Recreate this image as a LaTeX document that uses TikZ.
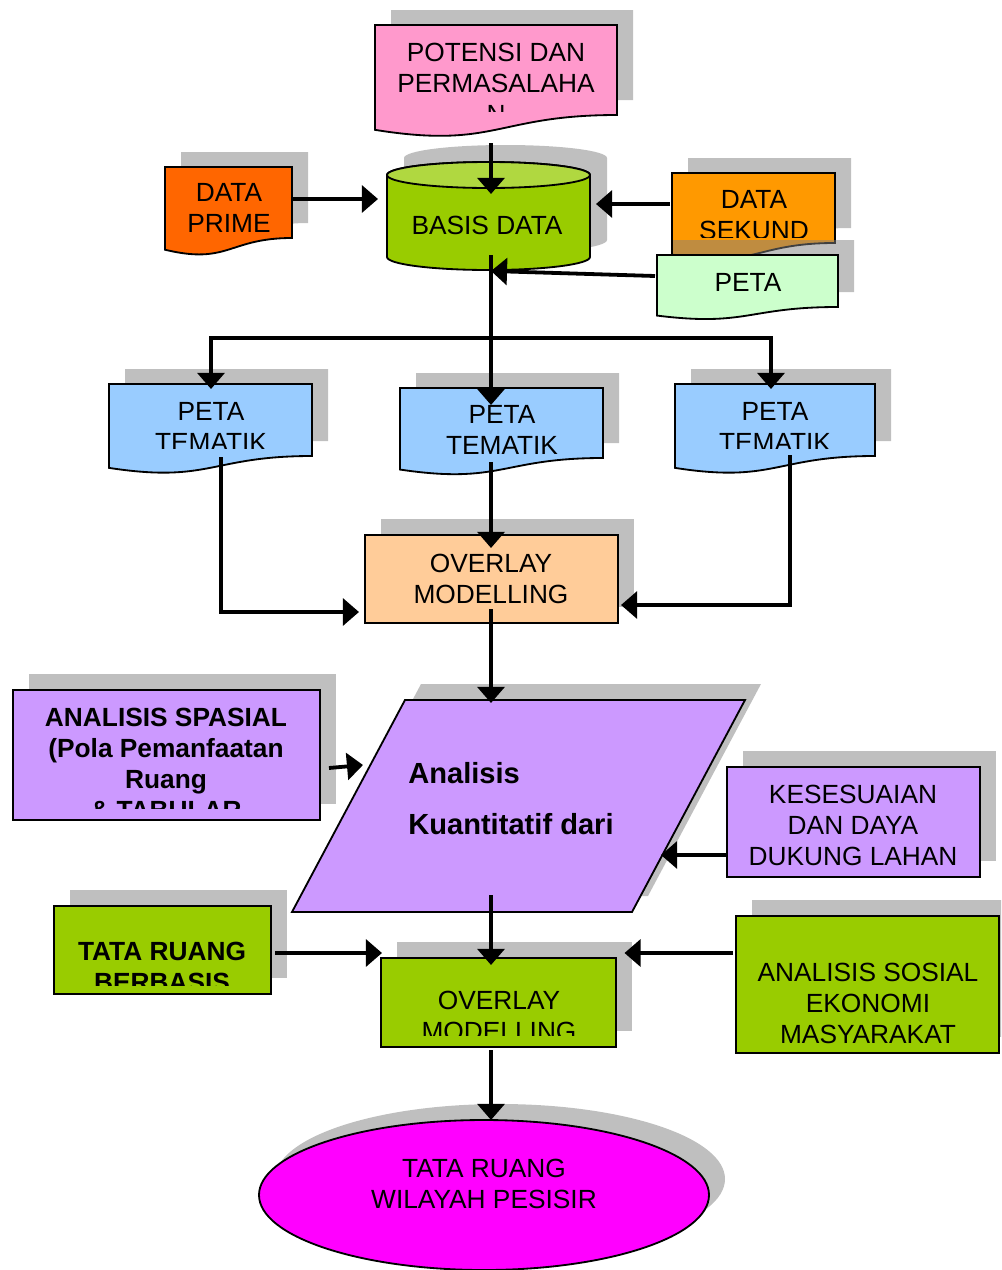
\documentclass[tikz,border=0pt]{standalone}
\usepackage{fontspec}
\setmainfont{Liberation Sans}
\usetikzlibrary{arrows.meta, calc, fit}

\definecolor{potensipink}{HTML}{FF99CC}
\definecolor{primeorange}{HTML}{FF6600}
\definecolor{sekunderorange}{HTML}{FF9900}
\definecolor{basisgreen}{HTML}{99CC00}
\definecolor{basistop}{HTML}{B0D840}
\definecolor{petagreen}{HTML}{CCFFCC}
\definecolor{mapblue}{HTML}{99CCFF}
\definecolor{overlaypeach}{HTML}{FFCC99}
\definecolor{analisislilac}{HTML}{CC99FF}
\definecolor{pesisirmagenta}{HTML}{FF00FF}

\begin{document}
\begin{tikzpicture}[x=0.025cm, y=-0.025cm,
    shadowfill/.style={fill=gray, fill opacity=0.5, draw=none},
    outline/.style={draw=black, line width=1.3pt},
    shapebox/.style={inner sep=0pt, outer sep=0pt},
    txt/.style={font=\fontsize{18.7}{22}\selectfont, align=center, inner sep=0pt},
    boldtxt/.style={txt, font=\fontsize{18.7}{22}\selectfont\bfseries},
    conn/.style={line width=2.7pt, -{Triangle[length=11.4pt, width=19pt]}}]

    % picture size (one unit = one pixel of the sketch)
    \clip (0,0) rectangle (1001,1270);

    % document shape: left, top, width, height of the right side
    \def\docpath#1#2#3#4{(#1,#2) -- ({#1+#3},#2) -- ({#1+#3},{#2+#4})
        .. controls ({#1+0.5*#3},{#2+#4}) and ({#1+0.5*#3},{#2+1.381*#4}) .. (#1,{#2+1.165*#4}) -- cycle}
    \def\docshape#1#2#3#4#5#6{%
        \fill[shadowfill, shift={(16,-15)}] \docpath{#2}{#3}{#4}{#5};
        \filldraw[outline, fill=#6] \docpath{#2}{#3}{#4}{#5};
        \node[shapebox, fit={(#2,#3) ({#2+#4},{#3+#5})}] (#1) {};
    }
    % box shape: left, top, right, bottom
    \def\boxshape#1#2#3#4#5#6{%
        \fill[shadowfill, shift={(16,-16)}] (#2,#3) rectangle (#4,#5);
        \node[shapebox, outline, fill=#6, fit={(#2,#3) (#4,#5)}] (#1) {};
    }
    % cylinder outline
    \def\cylpath{(387,257) .. controls (387,264.2) and (432.4,270) .. (488.5,270)
        .. controls (544.6,270) and (590,264.2) .. (590,257) -- (590,175)
        .. controls (590,167.8) and (544.6,162) .. (488.5,162)
        .. controls (432.4,162) and (387,167.8) .. (387,175) -- cycle}

    % Top row
    \docshape{potensi}{375}{25}{242}{90}{potensipink}
    \docshape{prime}{165}{167}{127}{71}{primeorange}

    \fill[shadowfill, shift={(17,-17)}] \cylpath;
    \filldraw[outline, fill=basisgreen] \cylpath;
    \filldraw[outline, fill=basistop] (488.5,175) ellipse (101.5 and 13);
    \node[shapebox, fit={(387,162) (590,270)}] (basis) {};

    \docshape{sekunder}{672}{173}{163}{70}{sekunderorange}
    \docshape{peta}{657}{255}{181}{52}{petagreen}

    % Thematic maps
    \foreach \n/\x/\y/\w/\h/\tx/\ty/\cy in
    {
        tem1/109/384/203/72/211/402.6/448,
        tem2/400/388/203/70/502/405.6/460,
        tem3/675/384/200/72/775/402.6/448
    } {
        \docshape{\n}{\x}{\y}{\w}{\h}{mapblue}
        \begin{scope}
            \clip (\x,\y) rectangle ({\x+\w},\cy);
            \node[txt, anchor=north] (\n-t) at (\tx,\ty) {PETA\\TEMATIK};
        \end{scope}
    }

    \boxshape{overlay1}{365}{535}{618}{623}{overlaypeach}

    % Analysis row
    \fill[shadowfill, shift={(16,-16)}] (405,700) -- (745,700) -- (632,912) -- (292,912) -- cycle;
    \filldraw[outline, fill=analisislilac] (405,700) -- (745,700) -- (632,912) -- (292,912) -- cycle;
    \node[shapebox, fit={(292,700) (745,912)}] (kuant) {};

    \boxshape{spasial}{13}{690}{320}{820}{analisislilac}
    \boxshape{sesuai}{727}{767}{980}{877}{analisislilac}

    % Bottom rows
    \boxshape{berbasis}{54}{906}{271}{994}{basisgreen}
    \boxshape{overlay2}{381}{958}{616}{1047}{basisgreen}
    \boxshape{sosial}{736}{916}{999}{1053}{basisgreen}

    \fill[shadowfill] (500,1179) ellipse (225 and 75);
    \filldraw[outline, fill=pesisirmagenta] (484,1195) ellipse (225 and 75);
    \node[shapebox, fit={(259,1120) (709,1270)}] (pesisir) {};

    % Texts
    \begin{scope}
        \clip (375,25) rectangle (617,111);
        \node[txt, anchor=north] (potensi-t) at (496,42.6) {POTENSI DAN\\PERMASALAHA\\N};
    \end{scope}
    \node[txt, anchor=north] (prime-t) at (229,183.6) {DATA\\PRIME};
    \node[txt, anchor=north] (basis-t) at (487,215.6) {BASIS DATA};
    \begin{scope}
        \clip (672,173) rectangle (835,237);
        \node[txt, anchor=north] (sekunder-t) at (754,190.6) {DATA\\SEKUND};
    \end{scope}
    \node[txt, anchor=north] (peta-t) at (748,273.6) {PETA};
    \node[txt, anchor=north] (overlay1-t) at (491,553.6) {OVERLAY\\MODELLING};
    \node[txt, font=\fontsize{20.7}{35.6}\selectfont\bfseries, align=left, anchor=north west]
        (kuant-t) at (408,762.6) {Analisis\\Kuantitatif dari};
    \begin{scope}
        \clip (13,690) rectangle (320,808);
        \node[boldtxt, anchor=north] (spasial-t) at (166,707.6) {ANALISIS SPASIAL\\(Pola Pemanfaatan\\Ruang\\\& TABULAR};
    \end{scope}
    \node[txt, anchor=north] (sesuai-t) at (853,784.6) {KESESUAIAN\\DAN DAYA\\DUKUNG LAHAN};
    \begin{scope}
        \clip (54,906) rectangle (271,985);
        \node[boldtxt, anchor=north] (berbasis-t) at (162,941.6) {TATA RUANG\\BERBASIS};
    \end{scope}
    \begin{scope}
        \clip (381,958) rectangle (616,1035);
        \node[txt, anchor=north] (overlay2-t) at (499,990.6) {OVERLAY\\MODELLING};
    \end{scope}
    \node[txt, anchor=north] (sosial-t) at (868,962.6) {ANALISIS SOSIAL\\EKONOMI\\MASYARAKAT};
    \node[txt, anchor=north] (pesisir-t) at (484,1158.6) {TATA RUANG\\WILAYAH PESISIR};

    % Connectors
    \draw[conn] ($(potensi.south)+(-5,28)$) -- ($(basis.north)+(2.5,32)$);
    \draw[conn] ($(prime.east)+(0,-3.5)$) -- ($(basis.west |- prime.east)+(-9,-3.5)$);
    \draw[conn] ($(sekunder.west)+(-2,-4)$) -- ($(basis.east |- sekunder.west)+(6,-4)$);
    \draw[conn] ($(peta.west)+(-2,-5)$) -- ($(basis.south)+(2.5,1)$);
    \draw[conn] ($(basis.south)+(2.5,-15)$) -- ($(tem2.north)+(-10.5,17)$);
    \coordinate (bus) at ($(basis.south)+(2.5,68)$);
    \draw[conn] (bus) -| ($(tem1.north)+(0.5,5)$);
    \draw[conn] (bus) -| ($(tem3.north)+(-4,5)$);
    \draw[conn] ($(tem2.south)+(-10.5,4)$) -- ($(overlay1.north)+(-0.5,13)$);
    \draw[conn] ($(tem1.south)+(10.5,1)$) |- ($(overlay1.west)+(-6,33)$);
    \draw[conn] ($(tem3.south)+(15,-1)$) |- ($(overlay1.east)+(3,26)$);
    \draw[conn] ($(overlay1.south)+(-0.5,-14)$) -- ($(kuant.north)+(-27.5,3)$);
    \draw[conn] ($(spasial.east)+(9,13)$) -- ($(kuant.west)+(71,-41)$);
    \draw[conn] ($(sesuai.west)+(0,33)$) -- ($(kuant.east |- sesuai.west)+(-84,33)$);
    \draw[conn] ($(kuant.south)+(-27.5,-17)$) -- ($(overlay2.north)+(-7.5,7)$);
    \draw[conn] ($(berbasis.east)+(4,3)$) -- ($(overlay2.west |- berbasis.east)+(1,3)$);
    \draw[conn] ($(sosial.west)+(-3,-31.5)$) -- ($(overlay2.east |- sosial.west)+(8.5,-31.5)$);
    \draw[conn] ($(overlay2.south)+(-7.5,3)$) -- ($(pesisir.north)+(7,0)$);
\end{tikzpicture}
\end{document}
